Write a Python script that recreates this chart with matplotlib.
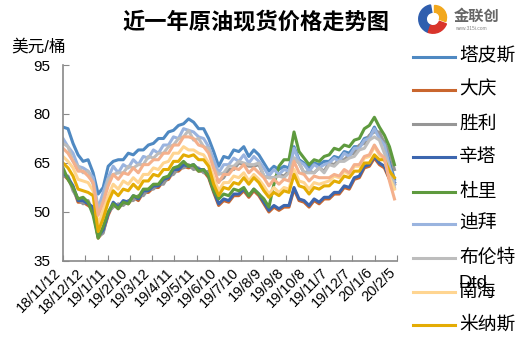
import numpy as np
import matplotlib
matplotlib.use('Agg')
import matplotlib.pyplot as plt
from matplotlib.lines import Line2D
from matplotlib.patches import Wedge
from matplotlib.transforms import ScaledTranslation

plt.rcParams['font.family'] = ['Liberation Sans', 'Noto Sans CJK SC', 'DejaVu Sans']

# 日期标签 (每月一个)
date_labels = ['18/11/12', '18/12/12', '19/1/11', '19/2/10', '19/3/12', '19/4/11',
               '19/5/11', '19/6/10', '19/7/10', '19/8/9', '19/9/8', '19/10/8',
               '19/11/7', '19/12/7', '20/1/6', '20/2/5']

# 周度价格 (美元/桶)
tapis = [76.0, 75.5, 71.0, 67.5, 65.5, 66.0, 62.0, 55.5, 57.5, 64.0, 65.5, 66.0, 66.0, 68.0, 67.5,
         69.0, 69.0, 70.5, 71.0, 72.5, 72.5, 74.5, 75.0, 76.5, 77.0, 78.5, 77.5, 75.5, 75.5, 72.5,
         68.5, 64.0, 67.0, 66.5, 69.0, 68.5, 70.0, 67.0, 69.0, 67.5, 65.0, 62.5, 64.0, 63.0, 64.0,
         63.5, 70.0, 66.0, 65.0, 63.5, 65.0, 64.5, 65.5, 65.5, 67.0, 66.5, 68.5, 68.0, 70.0, 70.0,
         72.5, 73.0, 76.0, 73.0, 71.5, 65.5, 60.0]
daqing = [61.5, 60.0, 57.5, 53.0, 53.0, 52.0, 51.0, 42.0, 44.0, 49.0, 52.5, 51.0, 53.0, 52.5, 54.5,
          53.5, 56.0, 56.0, 57.5, 57.5, 59.5, 60.0, 62.5, 62.5, 64.0, 63.5, 64.0, 62.5, 62.5, 60.5,
          56.0, 52.0, 53.5, 53.0, 55.0, 55.0, 56.5, 54.5, 56.5, 55.0, 52.5, 50.0, 51.5, 50.5, 51.5,
          51.5, 57.0, 53.5, 53.0, 51.5, 53.5, 52.5, 54.0, 54.0, 55.5, 55.5, 57.5, 57.0, 60.0, 60.5,
          63.5, 64.0, 66.5, 64.5, 63.5, 60.0, 58.5]
shengli = [61.0, 61.0, 56.5, 54.0, 52.5, 53.5, 50.0, 42.5, 43.5, 50.0, 51.5, 52.5, 52.0, 53.5, 53.5,
           55.0, 55.0, 57.0, 57.0, 58.5, 58.5, 61.0, 61.5, 63.5, 63.5, 64.5, 63.0, 63.5, 62.0, 62.5,
           59.5, 59.5, 60.5, 63.0, 63.0, 65.0, 64.5, 64.0, 64.0, 64.5, 61.0, 60.5, 60.5, 61.5, 61.0,
           62.5, 66.5, 65.0, 62.0, 62.5, 62.0, 63.5, 62.5, 65.0, 64.5, 66.0, 66.0, 67.5, 68.0, 70.5,
           71.0, 73.5, 74.5, 74.5, 71.0, 68.5, 63.0]
cinta = [62.0, 60.5, 58.0, 53.5, 53.5, 52.5, 51.5, 42.5, 44.5, 49.5, 53.0, 51.5, 53.5, 53.0, 55.0,
         54.0, 56.5, 56.5, 58.0, 58.0, 60.0, 60.5, 63.0, 63.0, 64.5, 64.0, 64.5, 63.0, 63.0, 61.0,
         56.5, 52.5, 54.0, 53.5, 55.5, 55.5, 57.0, 55.0, 57.0, 55.5, 53.0, 50.5, 52.0, 51.0, 52.0,
         52.0, 57.5, 54.0, 53.5, 52.0, 54.0, 53.0, 54.5, 54.5, 56.0, 56.0, 58.0, 57.5, 60.5, 61.0,
         64.0, 64.5, 67.0, 65.0, 64.0, 60.5, 59.0]
duri = [63.5, 60.0, 57.5, 54.0, 54.5, 53.0, 49.0, 42.0, 45.5, 50.0, 52.5, 51.0, 53.0, 52.5, 55.0,
        54.5, 57.0, 57.0, 58.5, 58.5, 60.5, 61.0, 63.5, 64.0, 65.5, 64.0, 64.5, 62.5, 63.0, 61.0,
        56.5, 54.0, 55.5, 55.0, 57.0, 56.5, 57.5, 55.0, 57.0, 55.5, 54.0, 51.5, 58.5, 64.0, 66.0,
        66.0, 74.5, 68.5, 66.5, 64.5, 66.0, 65.5, 67.0, 67.5, 69.5, 69.0, 70.5, 70.0, 72.0, 72.5,
        75.5, 76.5, 79.0, 76.0, 73.5, 70.0, 64.5]
dubai = [72.5, 70.0, 68.0, 64.0, 63.5, 62.5, 60.5, 51.0, 56.0, 60.5, 64.0, 62.0, 64.5, 63.5, 66.0,
         64.5, 67.0, 66.5, 69.0, 68.0, 70.5, 70.5, 73.0, 72.5, 75.5, 75.0, 74.5, 73.0, 72.5, 70.0,
         66.0, 62.0, 64.5, 64.5, 66.5, 65.5, 67.5, 65.0, 67.0, 65.5, 63.5, 61.0, 63.0, 61.5, 63.0,
         62.5, 69.5, 65.5, 64.5, 62.5, 64.5, 63.5, 64.5, 65.0, 66.5, 65.5, 68.0, 67.0, 69.5, 69.5,
         72.0, 72.5, 75.5, 72.5, 70.5, 64.0, 58.5]
brent = [71.0, 70.0, 65.5, 64.0, 62.0, 62.5, 58.5, 51.0, 53.5, 60.0, 61.5, 62.0, 62.0, 64.0, 63.5,
         64.5, 64.5, 67.0, 66.5, 68.0, 68.0, 70.0, 70.5, 72.5, 73.0, 75.0, 72.0, 72.5, 70.0, 69.5,
         63.5, 61.5, 62.0, 64.0, 64.0, 65.5, 65.0, 64.5, 64.5, 65.0, 61.0, 60.5, 60.5, 61.0, 60.5,
         62.0, 66.5, 65.0, 62.0, 62.0, 62.0, 63.5, 62.0, 64.5, 64.0, 65.5, 65.5, 66.5, 67.0, 69.0,
         69.5, 72.0, 73.0, 72.0, 68.0, 63.5, 57.5]
nanhai = [67.0, 65.5, 63.5, 60.0, 59.5, 59.0, 56.5, 46.0, 50.5, 55.0, 58.5, 57.0, 59.5, 58.5, 60.5,
          59.0, 61.5, 61.5, 63.5, 63.0, 65.0, 65.5, 68.0, 68.0, 70.0, 69.0, 69.0, 68.0, 67.5, 65.0,
          60.5, 56.5, 59.0, 59.0, 61.0, 60.5, 62.0, 59.5, 61.5, 60.0, 58.0, 55.5, 57.5, 56.0, 57.5,
          57.0, 63.0, 59.5, 59.0, 57.0, 59.0, 58.5, 59.0, 59.5, 61.0, 60.5, 62.5, 61.5, 64.0, 64.0,
          66.5, 67.0, 70.0, 67.5, 66.0, 60.5, 57.0]
minas = [65.0, 63.5, 61.0, 57.0, 56.5, 56.0, 55.0, 44.0, 48.0, 53.0, 56.5, 55.0, 57.0, 56.5, 58.5,
         57.0, 59.5, 59.5, 61.5, 61.0, 63.0, 63.0, 65.5, 65.5, 67.5, 67.0, 67.5, 66.0, 66.0, 64.0,
         58.5, 55.0, 57.5, 57.0, 59.0, 58.5, 60.5, 58.5, 60.5, 59.0, 56.5, 54.5, 56.0, 55.0, 56.5,
         56.0, 61.5, 58.0, 57.5, 55.5, 57.5, 57.0, 58.0, 58.0, 59.5, 59.0, 61.0, 60.5, 62.5, 62.5,
         65.0, 65.0, 67.5, 66.0, 66.0, 62.5, 60.5]
# 第十条序列 (图例被截断, 未显示名称)
other = [69.5, 68.0, 65.5, 62.5, 62.5, 61.0, 59.0, 49.0, 53.0, 58.0, 61.5, 60.0, 62.0, 61.5, 63.5,
         62.0, 64.5, 64.5, 66.0, 66.0, 68.0, 68.0, 70.5, 70.5, 73.0, 73.0, 72.5, 70.5, 70.0, 68.0,
         63.5, 59.0, 61.5, 61.5, 63.5, 63.0, 64.5, 62.0, 63.5, 62.0, 60.5, 58.0, 60.0, 58.5, 60.0,
         59.5, 65.5, 62.0, 61.5, 59.5, 61.0, 60.5, 60.5, 60.5, 61.5, 61.0, 63.0, 62.0, 64.5, 64.5,
         67.0, 67.5, 70.5, 68.0, 66.5, 59.5, 54.0]

series = [
    ('塔皮斯', tapis, '#4F89C2'),
    ('大庆', daqing, '#C9662E'),
    ('胜利', shengli, '#969696'),
    ('辛塔', cinta, '#3C66AF'),
    ('杜里', duri, '#5E9A3E'),
    ('迪拜', dubai, '#9AB4DF'),
    ('布伦特Dtd', brent, '#BDBDBD'),
    ('南海', nanhai, '#FFD591'),
    ('米纳斯', minas, '#E4AC04'),
]

fig = plt.figure(figsize=(5.32, 3.55), dpi=100)
ax = fig.add_axes([0.1184, 0.2648, 0.6278, 0.5521])

x = np.arange(len(dubai))
for name, vals, col in series:
    ax.plot(x, vals, color=col, lw=2.2)
ax.plot(x, other, color='#F4B08C', lw=2.2)

ax.set_ylim(35, 95)
ax.set_yticks([35, 50, 65, 80, 95])
xmax = len(dubai) - 0.5
ax.set_xlim(0, xmax)
ax.set_xticks(np.linspace(0, xmax, len(date_labels)))
ax.set_xticklabels(date_labels, rotation=45, ha='right', va='center',
                   rotation_mode='anchor', fontsize=10.5)
ax.tick_params(direction='in', length=4, color='#898989', labelsize=11, pad=9)
ax.tick_params(axis='x', pad=7, labelsize=10.5)
shift = ScaledTranslation(-4 / 100, 0, fig.dpi_scale_trans)
for lab in ax.get_xticklabels():
    lab.set_transform(lab.get_transform() + shift)
for s in ['top', 'right']:
    ax.spines[s].set_visible(False)
for s in ['left', 'bottom']:
    ax.spines[s].set_color('#898989')
    ax.spines[s].set_linewidth(1.2)

# 标题和单位
fig.text(0.481, 0.937, '近一年原油现货价格走势图', ha='center', va='center',
         fontsize=16, fontweight='bold', family=['Noto Sans CJK SC'])
fig.text(0.022, 0.868, '美元/桶', ha='left', va='center', fontsize=12)

# 图例 (手动)
leg_y = [57, 90, 124, 157, 192, 224, 258, 292, 325]
for (name, vals, col), yy in zip(series, leg_y):
    fy = 1 - yy / 355
    fig.add_artist(Line2D([413 / 532, 455 / 532], [fy, fy], color=col, lw=2.2))
    lab = '布伦特' if name == '布伦特Dtd' else name
    fig.text(459 / 532, fy, lab, ha='left', va='center', fontsize=13.5)
fig.text(459 / 532, 1 - 283 / 355, 'Dtd', ha='left', va='center', fontsize=13.5)

# 金联创 标志
lax = fig.add_axes([418 / 532, 1 - 34 / 355, 30 / 532, 30 / 355])
lax.set_xlim(-1, 1)
lax.set_ylim(-1, 1)
lax.axis('off')
lax.add_patch(Wedge((0, 0), 0.95, 100, 250, width=0.5, color='#2F5EAE'))
lax.add_patch(Wedge((0, 0), 0.95, 250, 340, width=0.5, color='#D9342B'))
lax.add_patch(Wedge((0.1, 0.1), 0.8, -20, 90, width=0.45, color='#F2A81D'))
fig.text(454 / 532, 1 - 16 / 355, '金联创', ha='left', va='center', fontsize=11,
         color='#666666', fontweight='bold', family=['Noto Sans CJK SC'])
fig.text(455 / 532, 1 - 28 / 355, 'www.315i.com', ha='left', va='center', fontsize=3.5,
         color='#888888')

fig.savefig('out.png', dpi=100)
